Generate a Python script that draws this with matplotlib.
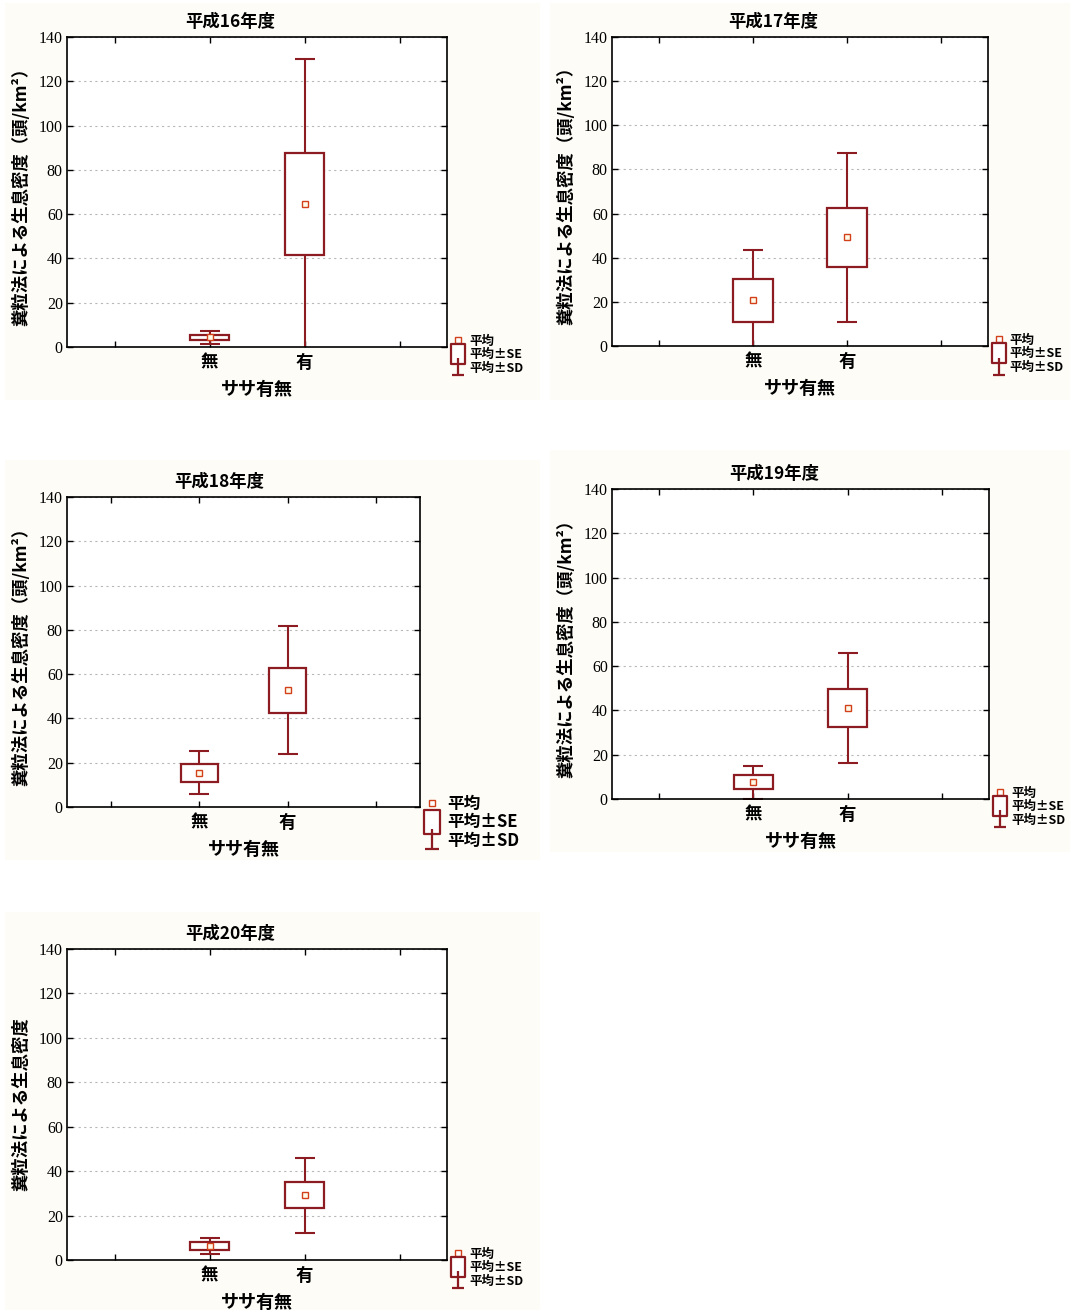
import numpy as np
import matplotlib.pyplot as plt
from matplotlib.lines import Line2D
from matplotlib.path import Path
from matplotlib.patches import Rectangle

plt.rcParams['font.family'] = ['Noto Sans CJK JP', 'DejaVu Sans']

years = ['平成16年度', '平成17年度', '平成18年度', '平成19年度', '平成20年度']
groups = ['無', '有']

# ササ無
mean_none = [4.3, 20.7, 15.5, 7.6, 6.4]
se_none = [1.3, 9.6, 4.1, 3.2, 1.7]
sd_none = [3.0, 23.0, 9.6, 7.4, 3.7]
# ササ有
mean_sasa = [64.6, 49.2, 52.8, 41.1, 29.1]
se_sasa = [23.0, 13.2, 10.2, 8.7, 5.8]
sd_sasa = [65.3, 38.1, 28.8, 25.0, 16.8]

ylabels = ['糞粒法による生息密度（頭/km²）'] * 4 + ['糞粒法による生息密度']
legend_labels = ['平均', '平均±SE', '平均±SD']

W, H = 1073, 1310
# panel axes boxes in pixels: left, top, right, bottom
rects = [(67, 37, 447, 347), (612, 37, 988, 346),
         (67, 497, 420, 807), (612, 489, 989, 799),
         (67, 949, 447, 1260)]
# faint scanned-paper areas behind each panel
paper = [(5, 3, 540, 400), (550, 3, 1070, 400), (5, 460, 540, 860),
         (550, 450, 1070, 852), (5, 912, 540, 1310)]
legend_fs = [9, 9, 12, 9, 9]

red = '#8c1b22'
mean_edge = '#d2401a'

se_marker = Path([(-0.35, -0.5), (0.35, -0.5), (0.35, 0.5), (-0.35, 0.5), (-0.35, -0.5)],
                 [Path.MOVETO, Path.LINETO, Path.LINETO, Path.LINETO, Path.CLOSEPOLY])
sd_marker = Path([(0, 0.6), (0, -0.5), (-0.4, -0.5), (0.4, -0.5)],
                 [Path.MOVETO, Path.LINETO, Path.MOVETO, Path.LINETO])

fig = plt.figure(figsize=(W / 100, H / 100), dpi=100)

for (l, t, r, b) in paper:
    fig.patches.append(Rectangle((l / W, 1 - b / H), (r - l) / W, (b - t) / H,
                                 transform=fig.transFigure, facecolor='#fdfcf6',
                                 edgecolor='none', zorder=-10))

for i, year in enumerate(years):
    l, t, r, b = rects[i]
    ax = fig.add_axes([l / W, 1 - b / H, (r - l) / W, (b - t) / H], zorder=1)
    x = np.array([1, 2])
    mean = np.array([mean_none[i], mean_sasa[i]])
    se = np.array([se_none[i], se_sasa[i]])
    sd = np.array([sd_none[i], sd_sasa[i]])

    ax.errorbar(x, mean, yerr=sd, fmt='none', ecolor=red, elinewidth=1.5,
                capsize=7.5, capthick=1.5, zorder=2)
    ax.bar(x, 2 * se, bottom=mean - se, width=0.42, facecolor='white',
           edgecolor=red, linewidth=1.6, zorder=3)
    ax.plot(x, mean, 's', ms=4.5, mfc='#fffbe8', mec=mean_edge, mew=1, zorder=4)

    ax.set_xlim(-0.5, 3.5)
    ax.set_ylim(0, 140)
    ax.set_yticks(np.arange(0, 141, 20))
    ax.set_xticks([0, 1, 2, 3])
    ax.set_xticklabels([''] + groups + [''], fontsize=12.5, fontweight='bold')
    for lab in ax.get_yticklabels():
        lab.set_family('Liberation Serif')
        lab.set_fontsize(11.5)
    ax.tick_params(direction='in', length=4, width=1, top=True, right=True)
    ax.tick_params(axis='y', pad=3)
    ax.tick_params(axis='x', pad=5)
    ax.set_axisbelow(True)
    ax.yaxis.grid(True, linestyle=(0, (2, 3)), color='#b8b8b8', linewidth=0.8)
    for s in ax.spines.values():
        s.set_linewidth(1.2)

    ax.set_title(year, x=0.43, fontsize=12.5, fontweight='bold', pad=7)
    ax.set_xlabel('ササ有無', fontsize=13, fontweight='bold', labelpad=6)
    ax.set_ylabel(ylabels[i], fontsize=12.5, fontweight='bold')
    ax.yaxis.set_label_coords(-37 / (r - l), 0.5)

    handles = [
        Line2D([], [], ls='none', marker='s', ms=4, mfc='white', mec=mean_edge, mew=1),
        Line2D([], [], ls='none', marker=se_marker, ms=legend_fs[i] + 5, mfc='white', mec=red, mew=1.6),
        Line2D([], [], ls='none', marker=sd_marker, ms=legend_fs[i] + 4, mec=red, mew=1.6),
    ]
    ax.legend(handles, legend_labels, loc='upper left', bbox_to_anchor=(1.015, 0.04),
              frameon=False, borderaxespad=0, borderpad=0, handlelength=0.8,
              handletextpad=0.5, labelspacing=0.05,
              prop={'size': legend_fs[i], 'weight': 'bold'})

fig.savefig('out.png', dpi=100, facecolor='white')
